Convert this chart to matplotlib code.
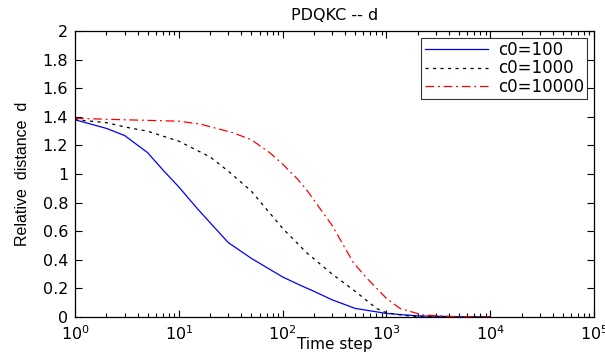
import numpy as np
import matplotlib
matplotlib.use("Agg")
import matplotlib.pyplot as plt
from matplotlib.ticker import LogLocator, NullFormatter

plt.rcParams["font.family"] = ["DejaVu Sans"]

# curves (time step, relative distance)
t_100 = [1, 2, 3, 5, 7, 10, 15, 20, 30, 50, 100, 150, 200, 300, 500, 1000, 2000, 5000, 10000]
d_100 = [1.38, 1.32, 1.27, 1.15, 1.03, 0.91, 0.76, 0.66, 0.52, 0.41, 0.28, 0.22, 0.18, 0.12, 0.06,
         0.025, 0.008, 0.002, 0.0]

t_1000 = [1, 2, 3, 5, 10, 20, 30, 50, 100, 170, 300, 500, 800, 1000, 1500, 2000, 5000, 10000]
d_1000 = [1.38, 1.36, 1.33, 1.30, 1.23, 1.12, 1.02, 0.88, 0.62, 0.45, 0.30, 0.18, 0.06, 0.03,
          0.01, 0.004, 0.001, 0.0]

t_10000 = [1, 3, 10, 16, 33, 50, 75, 100, 137, 170, 300, 480, 650, 1000, 1350, 2200, 4000, 10000]
d_10000 = [1.39, 1.38, 1.37, 1.35, 1.29, 1.24, 1.15, 1.07, 0.97, 0.89, 0.64, 0.38, 0.27, 0.13,
           0.06, 0.015, 0.004, 0.0]

fig = plt.figure(figsize=(6.05, 3.58), dpi=100)
ax = fig.add_axes([0.124, 0.1145, 0.858, 0.7985])

ax.semilogx(t_100, d_100, color="blue", lw=0.9, ls="-", label="c0=100")
ax.semilogx(t_1000, d_1000, color="black", lw=0.9, ls=(0, (2.5, 3.5)), label="c0=1000")
ax.semilogx(t_10000, d_10000, color="red", lw=0.9, ls=(0, (7, 3, 1.5, 3)), label="c0=10000")

ax.set_xlim(1, 1e5)
ax.set_ylim(0, 2)
ax.set_yticks(np.arange(0, 2.01, 0.2))
ax.set_yticklabels(["0", "0.2", "0.4", "0.6", "0.8", "1", "1.2", "1.4", "1.6", "1.8", "2"])
ax.xaxis.set_major_locator(LogLocator(base=10, numticks=10))
ax.xaxis.set_minor_locator(LogLocator(base=10, subs=np.arange(2, 10), numticks=20))
ax.xaxis.set_minor_formatter(NullFormatter())
ax.tick_params(which="both", direction="in", top=True, right=True, labelsize=11.5)
ax.tick_params(axis="x", which="major", pad=5)
ax.tick_params(axis="y", which="major", pad=5)
ax.tick_params(which="major", length=5, width=0.8)
ax.tick_params(which="minor", length=3, width=0.8)
for s in ax.spines.values():
    s.set_linewidth(0.9)

ax.set_title("PDQKC -- d", fontsize=11.5, pad=8)
ax.set_xlabel("Time step", fontsize=11, labelpad=-4)
ax.set_ylabel("Relative  distance  d", fontsize=11.5, labelpad=9,
              family=["Liberation Sans Narrow", "Liberation Sans", "DejaVu Sans"])

leg = ax.legend(loc="upper right", fontsize=12, frameon=True, fancybox=False,
                edgecolor="black", handlelength=3.8, borderaxespad=0.4,
                labelspacing=0.02, borderpad=0.2, handletextpad=0.6)
leg.get_frame().set_linewidth(0.8)

fig.savefig("out.png", dpi=100)
